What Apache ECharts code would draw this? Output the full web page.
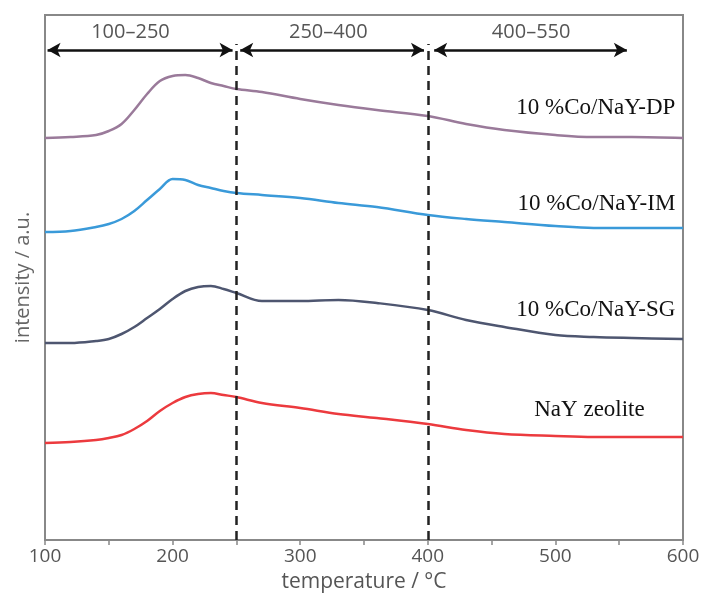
<!DOCTYPE html>
<html>
<head>
<meta charset="utf-8">
<script src="https://cdn.jsdelivr.net/npm/echarts@6/dist/echarts.min.js"></script>
<style>
  html, body { margin: 0; padding: 0; background: #fff; }
  #main { width: 704px; height: 598px; }
</style>
</head>
<body>
<div id="main"></div>
<script>
// temperature grid (°C)
const temps = [100, 120, 140, 150, 160, 170, 180, 190, 200, 210, 220, 230, 240, 250, 270, 300, 330, 360, 400, 430, 460, 500, 530, 560, 600]

// intensity (a.u., stacked offsets as drawn)
const dpVals = [402, 403, 405, 409, 416, 430, 446, 459, 464, 465, 462, 457, 454, 451, 448, 441, 435, 430, 424, 416, 410, 405, 403, 403, 402]
const imVals = [308, 309, 313, 316, 321, 329, 340, 351, 361, 360, 355, 352, 349, 347, 345, 342, 337, 333, 325, 321, 318, 314, 312, 312, 312]
const sgVals = [197, 197, 199, 201, 206, 213, 222, 231, 241, 249, 253, 254, 251, 247, 239, 239, 240, 237, 230, 220, 213, 205, 203, 202, 201]
const nayVals = [97, 98, 100, 102, 105, 111, 119, 129, 137, 143, 146, 147, 145, 143, 137, 132, 126, 122, 116, 110, 106, 104, 103, 103, 103]

const seriesNames = ['10 %Co/NaY-DP', '10 %Co/NaY-IM', '10 %Co/NaY-SG', 'NaY zeolite']
const seriesColors = ['#9a7a9a', '#3a9ad9', '#4e5670', '#ec3a3e']

// temperature ranges marked at the top
const rangeLabels = ['100–250', '250–400', '400–550']
const rangeFrom = [102, 253, 405]
const rangeTo = [247, 397, 556]
const rangeLabelAt = [167, 322, 481]
const dividers = [250, 400]

// where each curve's name sits: [temperature, intensity]
const labelPos = [[594, 432], [594, 336], [594, 230], [570, 130]]

const arrowY = 490
const rangeLabelY = 508
const pair = (vals) => temps.map((t, i) => [t, vals[i]])
const allVals = [dpVals, imVals, sgVals, nayVals]

const chart = echarts.init(document.getElementById('main'))

const series = allVals.map((vals, i) => ({
  name: seriesNames[i],
  type: 'line',
  data: pair(vals),
  smooth: 0.35,
  showSymbol: false,
  silent: true,
  lineStyle: { color: seriesColors[i], width: 2.5 },
  markPoint: {
    symbol: 'circle',
    symbolSize: 0,
    silent: true,
    data: [{
      coord: labelPos[i],
      label: {
        show: true,
        position: 'left',
        distance: 0,
        formatter: seriesNames[i],
        fontFamily: 'Liberation Serif',
        fontSize: 23,
        color: '#111'
      }
    }]
  }
}))

// dashed dividers, range arrows and their labels
series.push({
  type: 'line',
  data: [],
  silent: true,
  markPoint: {
    symbol: 'circle',
    symbolSize: 0,
    silent: true,
    data: rangeLabels.map((txt, i) => ({
      coord: [rangeLabelAt[i], rangeLabelY],
      label: {
        show: true,
        position: 'inside',
        formatter: txt,
        fontFamily: 'Open Sans',
        fontSize: 20,
        color: '#555'
      }
    }))
  },
  markLine: {
    silent: true,
    animation: false,
    label: { show: false },
    data: [
      ...dividers.map((d) => [
        { coord: [d, 0], symbol: 'none', lineStyle: { type: [9, 6], width: 2.5, color: '#222' } },
        { coord: [d, arrowY + 6], symbol: 'none' }
      ]),
      ...rangeFrom.map((f, i) => [
        {
          coord: [f, arrowY],
          symbol: 'arrow',
          symbolSize: [11, 13],
          lineStyle: { type: 'solid', width: 2.5, color: '#111' }
        },
        { coord: [rangeTo[i], arrowY], symbol: 'arrow', symbolSize: [11, 13] }
      ])
    ]
  }
})

const option = {
  animation: false,
  grid: {
    left: 45,
    right: 21,
    top: 15,
    bottom: 58,
    show: true,
    borderColor: '#888',
    borderWidth: 2
  },
  xAxis: {
    type: 'value',
    min: 100,
    max: 600,
    interval: 50,
    name: 'temperature / °C',
    nameLocation: 'middle',
    nameGap: 32,
    nameTextStyle: { fontFamily: 'Open Sans', fontSize: 21, color: '#555' },
    splitLine: { show: false },
    axisLine: { lineStyle: { color: '#888', width: 2 } },
    axisTick: { length: 5, lineStyle: { color: '#888', width: 1.5 } },
    axisLabel: {
      margin: 7,
      fontFamily: 'Open Sans',
      fontSize: 19,
      color: '#555',
      formatter: (v) => (v % 100 === 0 ? String(v) : '')
    }
  },
  yAxis: {
    type: 'value',
    min: 0,
    max: 525,
    name: 'intensity / a.u.',
    nameLocation: 'middle',
    nameGap: 12,
    nameTextStyle: { fontFamily: 'Open Sans', fontSize: 20, color: '#666' },
    splitLine: { show: false },
    axisLine: { show: true, lineStyle: { color: '#888', width: 2 } },
    axisTick: { show: false },
    axisLabel: { show: false }
  },
  series
}

chart.setOption(option)
</script>
</body>
</html>
